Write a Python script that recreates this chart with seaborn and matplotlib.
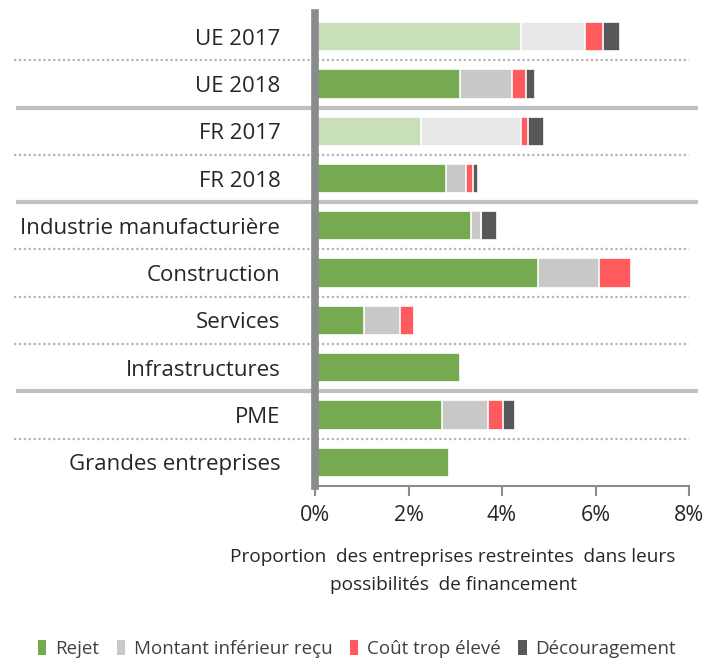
import matplotlib
matplotlib.use("Agg")
import matplotlib.pyplot as plt
from matplotlib.patches import Patch
import seaborn as sns
import numpy as np
import pandas as pd

categories = ["UE 2017", "UE 2018", "FR 2017", "FR 2018",
              "Industrie manufacturière", "Construction", "Services",
              "Infrastructures", "PME", "Grandes entreprises"]
rejet = [4.41, 3.10, 2.27, 2.80, 3.34, 4.76, 1.05, 3.10, 2.71, 2.86]
montant = [1.37, 1.12, 2.14, 0.44, 0.20, 1.32, 0.77, 0.0, 0.98, 0.0]
cout = [0.38, 0.29, 0.15, 0.15, 0.0, 0.68, 0.30, 0.0, 0.33, 0.0]
decourag = [0.36, 0.20, 0.34, 0.10, 0.35, 0.0, 0.0, 0.0, 0.26, 0.0]
series_names = ["Rejet", "Montant inférieur reçu", "Coût trop élevé", "Découragement"]
faded_rows = ["UE 2017", "FR 2017"]

dark_cols = ["#75aa50", "#c8c8c6", "#ff5a5e", "#58585a"]
light_cols = ["#c9dfb9", "#e8e8e8", "#ff5a5e", "#58585a"]

sns.set_style("white")
plt.rcParams["font.family"] = ["Open Sans", "DejaVu Sans"]
txt = "#262626"

df = pd.DataFrame({"cat": categories, "Rejet": rejet, "Montant": montant,
                   "Cout": cout, "Decour": decourag})
cum = np.cumsum(df[["Rejet", "Montant", "Cout", "Decour"]].values, axis=1)

fig = plt.figure(figsize=(7.09, 6.62), dpi=100)
ax = fig.add_axes([0.4443, 0.2659, 0.5275, 0.7145])

# draw cumulative totals from the largest down so each segment shows
for k in [3, 2, 1, 0]:
    pal = {c: (light_cols[k] if c in faded_rows else dark_cols[k]) for c in categories}
    sns.barplot(x=cum[:, k], y=categories, hue=categories, palette=pal,
                orient="h", width=0.62, edgecolor="white", linewidth=1.2,
                saturation=1, legend=False, ax=ax, zorder=2)

ax.set_xlim(0, 8)
ax.set_ylim(len(categories) - 0.5, -0.5)
ax.set_xticks([0, 2, 4, 6, 8])
ax.set_xticklabels(["0%", "2%", "4%", "6%", "8%"])
ax.set_xlabel("")
ax.set_ylabel("")
ax.tick_params(axis="y", length=0, pad=25, labelsize=16, labelcolor=txt)
ax.tick_params(axis="x", length=7, width=1.5, color="#8c8c8c", direction="out",
               pad=7, labelsize=15.5, labelcolor=txt, bottom=True)
for s in ["top", "right"]:
    ax.spines[s].set_visible(False)
ax.spines["left"].set_color("#898b8d")
ax.spines["left"].set_linewidth(5.5)
ax.spines["left"].set_zorder(5)
ax.spines["bottom"].set_color("#8c8c8c")
ax.spines["bottom"].set_linewidth(1.5)

# row separators: solid between groups, dotted inside groups
ytr = ax.get_yaxis_transform()
group_breaks = [1.5, 3.5, 7.5]
for y in np.arange(0.5, len(categories) - 1, 1.0):
    if y in group_breaks:
        ax.plot([-0.80, 1.025], [y, y], transform=ytr, color="#c0c0c0", lw=3,
                clip_on=False, zorder=1, solid_capstyle="butt")
    else:
        ax.plot([-0.805, 1.0], [y, y], transform=ytr, color="#b4b4b4", lw=1.6,
                ls=(0, (1, 1.2)), clip_on=False, zorder=1)

fig.text(453 / 709, 1 - 571 / 662,
         "Proportion  des entreprises restreintes  dans leurs\npossibilités  de financement",
         ha="center", va="center", fontsize=13.7, color=txt, linespacing=1.75)

handles = [Patch(facecolor=c, edgecolor="none") for c in dark_cols]
fig.legend(handles, series_names, loc="center left",
           bbox_to_anchor=(38 / 709, 1 - 649 / 662), ncol=4, frameon=False,
           fontsize=13.5, handlelength=0.45, handleheight=0.9, handletextpad=0.45,
           columnspacing=0.95, borderpad=0, borderaxespad=0, labelcolor="#404040")

fig.savefig("out.png", dpi=100)
